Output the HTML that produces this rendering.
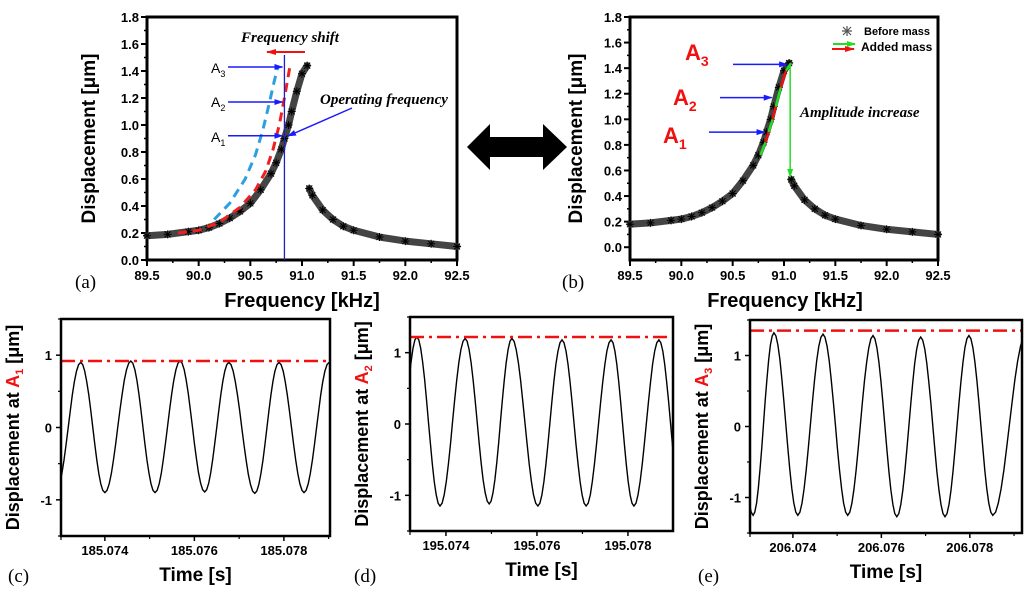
<!DOCTYPE html>
<html><head><meta charset="utf-8">
<style>
html,body{margin:0;padding:0;background:#fff;}
svg{display:block;font-family:"Liberation Sans",sans-serif;}
.tk{font-size:13px;font-weight:bold;}
.ttl{font-weight:bold;}
.serif{font-family:"Liberation Serif",serif;}
</style></head>
<body>
<svg id="fig" width="1024" height="595" viewBox="0 0 1024 595" xmlns="http://www.w3.org/2000/svg">
<defs>
<marker id="ab" markerUnits="userSpaceOnUse" markerWidth="9" markerHeight="8" refX="8" refY="4" orient="auto"><path d="M0,1 L9,4 L0,7z" fill="#1a1aff"/></marker>
<marker id="ar" markerUnits="userSpaceOnUse" markerWidth="10" markerHeight="8" refX="9" refY="4" orient="auto"><path d="M0,1 L10,4 L0,7z" fill="#f01010"/></marker>
<marker id="ag" markerUnits="userSpaceOnUse" markerWidth="9" markerHeight="8" refX="8" refY="4" orient="auto"><path d="M0,1 L9,4 L0,7z" fill="#22dd22"/></marker>
</defs>
<path d="M467,147 L490,124 L490,137 L543,137 L543,124 L567,147 L543,170 L543,157 L490,157 L490,170 Z" fill="#000"/>
</svg>
<script>
// Frequency response (before mass)
const freqLeft = [89.5,89.7,89.9,90.0,90.1,90.2,90.3,90.4,90.5,90.6,90.7,90.75,90.8,90.83,90.87,90.9,90.95,91.0,91.05];
const dispLeft = [0.18,0.19,0.21,0.22,0.24,0.27,0.31,0.36,0.42,0.52,0.64,0.72,0.82,0.90,1.0,1.1,1.25,1.38,1.44];
const freqRight = [91.07,91.1,91.2,91.3,91.4,91.5,91.75,92.0,92.25,92.5];
const dispRight = [0.53,0.48,0.37,0.30,0.25,0.22,0.17,0.14,0.12,0.10];
// Shifted curves (panel a)
const freqRed = [89.8,90.0,90.2,90.4,90.55,90.65,90.72,90.78,90.83,90.88];
const dispRed = [0.20,0.22,0.28,0.39,0.52,0.66,0.82,1.0,1.2,1.42];
const freqBlue = [90.15,90.3,90.45,90.55,90.62,90.68,90.73,90.77];
const dispBlue = [0.30,0.42,0.60,0.78,0.96,1.15,1.32,1.44];
// Time signals: extrema times and values
const timeC = [185.0729,185.07346,185.074,185.07458,185.07512,185.07568,185.07623,185.07677,185.07735,185.07789,185.07845,185.07901];
const valC = [-0.9,0.9,-0.9,0.92,-0.9,0.92,-0.89,0.9,-0.91,0.9,-0.9,0.9];
const timeD = [195.07286,195.07336,195.07387,195.07442,195.07495,195.07545,195.07602,195.07655,195.07708,195.07763,195.07813,195.07868,195.07919];
const valD = [-1.15,1.22,-1.15,1.2,-1.12,1.2,-1.15,1.18,-1.15,1.18,-1.15,1.18,-1.15];
const timeE = [206.07259,206.0731,206.07357,206.07411,206.07468,206.07524,206.07581,206.07635,206.07689,206.07744,206.07798,206.07852,206.07927,206.0798];
const valE = [1.3,-1.25,1.32,-1.25,1.3,-1.25,1.28,-1.27,1.26,-1.27,1.28,-1.25,1.3,-1.25];
const refLines = [0.92,1.22,1.35];
const freqTicks = ["89.5","90.0","90.5","91.0","91.5","92.0","92.5"];
const dispTicks = ["0.0","0.2","0.4","0.6","0.8","1.0","1.2","1.4","1.6","1.8"];

const NS="http://www.w3.org/2000/svg";
const svg=document.getElementById('fig');
function mk(tag,attrs,parent,text){const e=document.createElementNS(NS,tag);for(const k in attrs)e.setAttribute(k,attrs[k]);if(text!==undefined)e.textContent=text;(parent||svg).appendChild(e);return e;}
function lin(d0,d1,r0,r1){return v=>r0+(v-d0)*(r1-r0)/(d1-d0);}

function freqPanel(name,L,R,T,B,ymin,xTitleX,yTitleX){
  const g=mk('g',{});
  
  
  const x=lin(89.5,92.5,L,R), y=lin(ymin,1.8,B,T);
  const box=mk('rect',{x:L,y:T,width:R-L,height:B-T,fill:'none',stroke:'#000','stroke-width':3},g);
  
  
  freqTicks.forEach(t=>{const v=+t;mk('line',{x1:x(v),x2:x(v),y1:B,y2:B+6,stroke:'#000','stroke-width':2},g);
    const tx=mk('text',{x:x(v),y:B+20,'text-anchor':'middle',class:'tk'},g,t);
    
    
    if(v<92.5)mk('line',{x1:x(v+0.25),x2:x(v+0.25),y1:B,y2:B+3,stroke:'#000','stroke-width':1.5},g);});
  dispTicks.forEach(t=>{const v=+t;mk('line',{x1:L-6,x2:L,y1:y(v),y2:y(v),stroke:'#000','stroke-width':2},g);
    const tx=mk('text',{x:L-8,y:y(v)+5,'text-anchor':'end',class:'tk'},g,t);
    
    
    if(v<1.8)mk('line',{x1:L-3,x2:L,y1:y(v+0.1),y2:y(v+0.1),stroke:'#000','stroke-width':1.5},g);});
  const xt=mk('text',{x:xTitleX,y:B+47,'text-anchor':'middle',class:'ttl','font-size':20},g,'Frequency [kHz]');
  
  
  const yt=mk('text',{x:0,y:0,'text-anchor':'middle',class:'ttl','font-size':19,transform:`translate(${yTitleX},${(T+B)/2}) rotate(-90)`},g,'Displacement [\u03bcm]');
  
  
  [[freqLeft,dispLeft],[freqRight,dispRight]].forEach(([fx,dy])=>{
    const p=mk('polyline',{points:fx.map((f,i)=>x(f)+','+y(dy[i])).join(' '),fill:'none',stroke:'#444','stroke-width':7,'stroke-linejoin':'round','stroke-linecap':'round'},g);
    
    
    fx.forEach((f,i)=>{const cx=x(f),cy=y(dy[i]);
      const m=mk('path',{d:`M${cx-4},${cy}h8M${cx},${cy-4}v8M${cx-3},${cy-3}l6,6M${cx-3},${cy+3}l6,-6`,stroke:'#000','stroke-width':1},g);
      
      });
  });
  return {g,x,y};
}

// Panel (a)
const A=freqPanel('panel-a-frequency-response',147,457,17,260,0,302,95);
[[freqRed,dispRed,'#f02020','panel-a-red-dashed'],[freqBlue,dispBlue,'#2aa0e0','panel-a-blue-dashed']].forEach(([fx,dy,c,n])=>{
  const p=mk('polyline',{points:fx.map((f,i)=>A.x(f)+','+A.y(dy[i])).join(' '),fill:'none',stroke:c,'stroke-width':3,'stroke-dasharray':'9,6'},A.g);
  
  
});
mk('line',{x1:A.x(90.83),x2:A.x(90.83),y1:55,y2:260,stroke:'#2020c0','stroke-width':1.3},A.g);
[['A',"3",1.43,68],['A',"2",1.17,102],['A',"1",0.92,137]].forEach(([a,s,v,ty])=>{
  const t=mk('text',{x:211,y:ty+5,'font-size':14},A.g);
  
  
  mk('tspan',{},t,a);mk('tspan',{'font-size':9,dy:4},t,s);
  mk('line',{x1:228,x2:A.x(90.83)-2,y1:A.y(v),y2:A.y(v),stroke:'#1a1aff','stroke-width':1.5,'marker-end':'url(#ab)'},A.g);
});
const fs=mk('text',{x:290,y:42,'text-anchor':'middle','font-size':15,'font-weight':'bold','font-style':'italic',class:'serif'},A.g,'Frequency shift');


mk('line',{x1:305,x2:267,y1:52,y2:52,stroke:'#f01010','stroke-width':2,'marker-end':'url(#ar)'},A.g);
const of=mk('text',{x:320,y:104,'font-size':15,'font-weight':'bold','font-style':'italic',class:'serif'},A.g,'Operating frequency');


mk('line',{x1:352,x2:288,y1:108,y2:136,stroke:'#1a1aff','stroke-width':1.5,'marker-end':'url(#ab)'},A.g);
mk('text',{x:75,y:288,'font-size':19,class:'serif'},A.g,'(a)');

// Panel (b)
const Bp=freqPanel('panel-b-frequency-response',630,938,17,260,-0.1,785,582);
const gi=[11,12,13,14,15,16,17,18];
for(let k=0;k<gi.length-1;k++){const i=gi[k],j=gi[k+1];
  const s=mk('line',{x1:Bp.x(freqLeft[i])+2,y1:Bp.y(dispLeft[i]),x2:Bp.x(freqLeft[j])+2,y2:Bp.y(dispLeft[j]),stroke:k%2?'#f01010':'#22dd22','stroke-width':2.5},Bp.g);
  
  }
[["3",1.43,52,707,733],["2",1.17,97,695,720],["1",0.9,135,685,709]].forEach(([s,v,ty,tx,ax])=>{
  const t=mk('text',{x:tx-22,y:ty+8,'font-size':22,'font-weight':'bold',fill:'#f01010'},Bp.g);
  
  
  mk('tspan',{},t,'A');mk('tspan',{'font-size':14,dy:6},t,s);
  const tgt=freqLeft.map((f,i)=>[f,dispLeft[i]]).reduce((a,b)=>Math.abs(b[1]-v)<Math.abs(a[1]-v)?b:a);
  mk('line',{x1:ax,x2:Bp.x(tgt[0])-2,y1:Bp.y(v),y2:Bp.y(v),stroke:'#1a1aff','stroke-width':1.5,'marker-end':'url(#ab)'},Bp.g);
});
mk('line',{x1:Bp.x(91.06),x2:Bp.x(91.06),y1:Bp.y(1.43),y2:Bp.y(0.55),stroke:'#22dd22','stroke-width':1.5,'marker-end':'url(#ag)'},Bp.g);
const ai=mk('text',{x:800,y:117,'font-size':15,'font-weight':'bold','font-style':'italic',class:'serif'},Bp.g,'Amplitude increase');


const lg=mk('g',{},Bp.g);


mk('path',{d:'M842,31h10M847,26v10M843,27l8,8M843,35l8,-8',stroke:'#555','stroke-width':1.2},lg);
mk('text',{x:864,y:35,'font-size':11,'font-weight':'bold'},lg,'Before mass');
mk('line',{x1:833,x2:855,y1:44,y2:44,stroke:'#22dd22','stroke-width':2,'marker-end':'url(#ag)'},lg);
mk('line',{x1:832,x2:854,y1:49,y2:49,stroke:'#f01010','stroke-width':2,'marker-end':'url(#ar)'},lg);
mk('text',{x:861,y:51,'font-size':12,'font-weight':'bold'},lg,'Added mass');
mk('text',{x:562,y:288,'font-size':19,class:'serif'},Bp.g,'(b)');

// Time panels
function timePanel(name,L,R,T,B,t0,t1,ticks,times,vals,ref,sub,letter,letterX){
  const g=mk('g',{});
  
  
  const x=lin(t0,t1,L,R), y=lin(-1.5,1.5,B,T);
  const cid='clip'+sub;
  const cp=mk('clipPath',{id:cid},g);mk('rect',{x:L,y:T,width:R-L,height:B-T},cp);
  let pts=[];
  for(let i=0;i<times.length-1;i++){const ta=times[i],tb=times[i+1],va=vals[i],vb=vals[i+1];
    for(let k=0;k<=12;k++){const f=k/12,tt=ta+(tb-ta)*f,vv=va+(vb-va)*(1-Math.cos(Math.PI*f))/2;pts.push(x(tt).toFixed(1)+','+y(vv).toFixed(1));}}
  const w=mk('polyline',{points:pts.join(' '),fill:'none',stroke:'#000','stroke-width':1.4,'clip-path':`url(#${cid})`},g);
  
  
  const rl=mk('line',{x1:L,x2:R,y1:y(ref),y2:y(ref),stroke:'#f01010','stroke-width':2.5,'stroke-dasharray':'14,5,3,5'},g);
  
  
  const box=mk('rect',{x:L,y:T,width:R-L,height:B-T,fill:'none',stroke:'#000','stroke-width':2.5},g);
  
  
  ticks.forEach(t=>{const xv=x(+t);mk('line',{x1:xv,x2:xv,y1:B,y2:B+5,stroke:'#000','stroke-width':1.5},g);
    const tx=mk('text',{x:xv,y:B+19,'text-anchor':'middle',class:'tk'},g,t);
    
    });
  for(let k=-1;k<ticks.length;k++){const xv=x(+ticks[0]+0.001+0.002*k);if(xv>L&&xv<R)mk('line',{x1:xv,x2:xv,y1:B,y2:B+3,stroke:'#000','stroke-width':1.2},g);}
  mk('line',{x1:L,x2:L,y1:B,y2:B+4,stroke:'#000','stroke-width':1.2},g);
  [-1,0,1].forEach(v=>{mk('line',{x1:L-5,x2:L,y1:y(v),y2:y(v),stroke:'#000','stroke-width':1.5},g);
    const tx=mk('text',{x:L-9,y:y(v)+5,'text-anchor':'end',class:'tk'},g,String(v));
    
    });
  [-1.5,-0.5,0.5,1.5].forEach(v=>mk('line',{x1:L-3,x2:L,y1:y(v),y2:y(v),stroke:'#000','stroke-width':1.2},g));
  const xt=mk('text',{x:(L+R)/2,y:B+45,'text-anchor':'middle',class:'ttl','font-size':19},g,'Time [s]');
  
  
  const yt=mk('text',{x:0,y:0,'text-anchor':'middle',class:'ttl','font-size':18,transform:`translate(${L-42},${(T+B)/2}) rotate(-90)`},g);
  
  
  mk('tspan',{},yt,'Displacement at ');mk('tspan',{fill:'#f01010'},yt,'A');mk('tspan',{fill:'#f01010','font-size':11,dy:4},yt,sub);mk('tspan',{dy:-4},yt,' [\u03bcm]');
  mk('text',{x:letterX,y:582,'font-size':19,class:'serif'},g,letter);
}
timePanel('panel-c-time-signal',61,330,319,536,185.07302,185.07903,["185.074","185.076","185.078"],timeC,valC,refLines[0],'1','(c)',8);
timePanel('panel-d-time-signal',410,673,317,531,195.07321,195.07899,["195.074","195.076","195.078"],timeD,valD,refLines[1],'2','(d)',354);
timePanel('panel-e-time-signal',750,1022,320,533,206.07303,206.07918,["206.074","206.076","206.078"],timeE,valE,refLines[2],'3','(e)',698);
</script>
</body></html>
